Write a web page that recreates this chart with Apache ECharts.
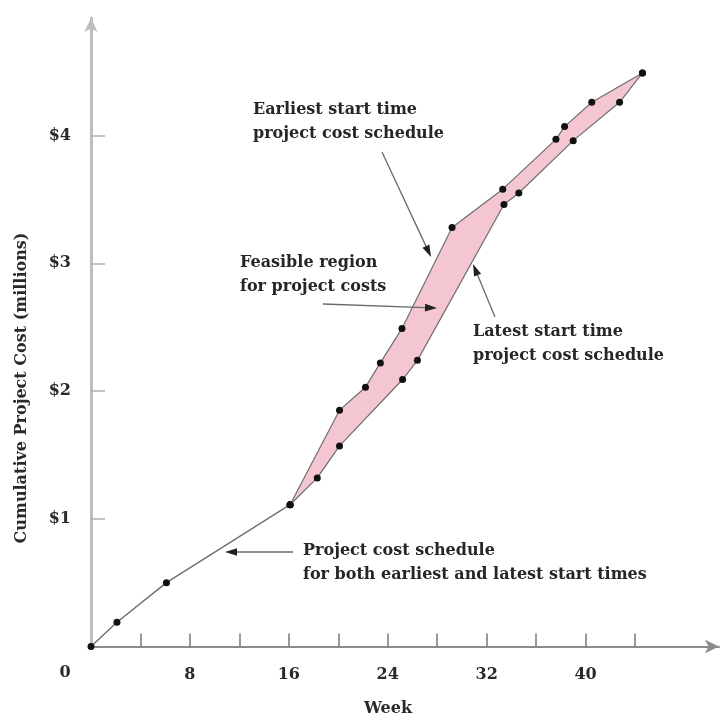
<!DOCTYPE html>
<html>
<head>
<meta charset="utf-8">
<script src="https://cdn.jsdelivr.net/npm/echarts@6/dist/echarts.min.js"></script>
<style>
  html, body { margin: 0; padding: 0; background: #fff; }
  #chart { width: 724px; height: 719px; }
</style>
</head>
<body>
<div id="chart"></div>
<script>
// ---- data (weeks, $ millions) ----
const weeksCommon = [0, 2.1, 6.1, 16.1];
const costCommon = [0, 0.19, 0.5, 1.11];
const weeksEarliest = [16.1, 20.1, 22.2, 23.4, 25.15, 29.2, 33.3, 37.6, 38.3, 40.5, 44.6];
const costEarliest = [1.11, 1.85, 2.03, 2.22, 2.49, 3.28, 3.58, 3.97, 4.07, 4.26, 4.49];
const weeksLatest = [16.1, 18.3, 20.1, 25.2, 26.4, 33.4, 34.6, 39.0, 42.75, 44.6];
const costLatest = [1.11, 1.32, 1.57, 2.09, 2.24, 3.46, 3.55, 3.96, 4.26, 4.49];
const xTickValues = [4, 8, 12, 16, 20, 24, 28, 32, 36, 40, 44];
const xLabelValues = [8, 16, 24, 32, 40];
const yTickValues = [1, 2, 3, 4];
const yLabelValues = [1, 2, 3, 4];

const zip = (xs, ys) => xs.map((x, i) => [x, ys[i]]);

const FONT = '"DejaVu Serif", serif';
const chart = echarts.init(document.getElementById('chart'), null, { renderer: 'canvas' });

function arrow(x1, y1, x2, y2) {
  const dx = x2 - x1, dy = y2 - y1;
  const L = Math.sqrt(dx * dx + dy * dy);
  const ux = dx / L, uy = dy / L;
  const hl = 12, hw = 3.8;
  const bx = x2 - ux * hl, by = y2 - uy * hl;
  return [
    { type: 'line', z: 100, shape: { x1: x1, y1: y1, x2: bx, y2: by },
      style: { stroke: '#6a6a6a', lineWidth: 1.3 } },
    { type: 'polygon', z: 100,
      shape: { points: [[x2, y2], [bx - uy * hw, by + ux * hw], [bx + uy * hw, by - ux * hw]] },
      style: { fill: '#222' } }
  ];
}

function label(text, x, top) {
  return { type: 'text', z: 100, x: x, y: top,
    style: { text: text, font: 'bold 16px ' + FONT, fill: '#262626',
      lineHeight: 24, verticalAlign: 'top', align: 'left' } };
}

const option = {
  backgroundColor: '#ffffff',
  animation: false,
  grid: { left: 91, right: 5, top: 18, bottom: 72.5, containLabel: false },
  xAxis: {
    type: 'value', min: 0, max: 50.79, splitLine: { show: false },
    axisLine: { show: true, lineStyle: { color: '#8c8c8c', width: 2 },
      symbol: ['none', 'arrow'], symbolSize: [10, 14] },
    axisTick: { show: true, inside: true, length: 13, customValues: xTickValues,
      lineStyle: { color: '#7a7a7a', width: 1.5 } },
    axisLabel: { show: true, customValues: xLabelValues, margin: 20,
      fontFamily: FONT, fontWeight: 'bold', fontSize: 16, color: '#2a2a2a' }
  },
  yAxis: {
    type: 'value', min: 0, max: 4.92, splitLine: { show: false },
    axisLine: { show: true, lineStyle: { color: '#bdbdbd', width: 3 },
      symbol: ['none', 'arrow'], symbolSize: [10, 14] },
    axisTick: { show: true, inside: true, length: 14, customValues: yTickValues,
      lineStyle: { color: '#b0b0b0', width: 1.5 } },
    axisLabel: { show: true, customValues: yLabelValues, margin: 20,
      formatter: v => '$' + v,
      fontFamily: FONT, fontWeight: 'bold', fontSize: 16, color: '#2a2a2a' }
  },
  series: [
    {
      type: 'custom', z: 1, silent: true,
      data: [[0, 0]],
      renderItem: function (params, api) {
        const pts = zip(weeksEarliest, costEarliest)
          .concat(zip(weeksLatest, costLatest).reverse())
          .map(p => api.coord(p));
        return { type: 'polygon', shape: { points: pts },
          style: { fill: '#f4c6d2', stroke: null } };
      }
    },
    {
      type: 'line', z: 3, data: zip(weeksCommon, costCommon),
      symbol: 'circle', symbolSize: 7,
      lineStyle: { color: '#6e6e6e', width: 1.4 },
      itemStyle: { color: '#111' }
    },
    {
      type: 'line', z: 3, data: zip(weeksEarliest, costEarliest),
      symbol: 'circle', symbolSize: 7,
      lineStyle: { color: '#6e6e6e', width: 1.2 },
      itemStyle: { color: '#111' }
    },
    {
      type: 'line', z: 3, data: zip(weeksLatest, costLatest),
      symbol: 'circle', symbolSize: 7,
      lineStyle: { color: '#6e6e6e', width: 1.2 },
      itemStyle: { color: '#111' }
    }
  ],
  graphic: [
    { type: 'text', z: 100, x: 65, y: 673,
      style: { text: '0', font: 'bold 16px ' + FONT, fill: '#2a2a2a', align: 'center', verticalAlign: 'middle' } },
    { type: 'text', z: 100, x: 388, y: 709,
      style: { text: 'Week', font: 'bold 16px ' + FONT, fill: '#2a2a2a', align: 'center', verticalAlign: 'middle' } },
    { type: 'text', z: 100, x: 22, y: 388, rotation: Math.PI / 2,
      style: { text: 'Cumulative Project Cost (millions)', font: 'bold 16px ' + FONT, fill: '#2a2a2a', align: 'center', verticalAlign: 'middle' } },
    label('Earliest start time\nproject cost schedule', 253, 98),
    label('Feasible region\nfor project costs', 240, 251),
    label('Latest start time\nproject cost schedule', 473, 320),
    label('Project cost schedule\nfor both earliest and latest start times', 303, 539)
  ].concat(arrow(382, 152, 431, 257))
   .concat(arrow(323, 304, 437, 308))
   .concat(arrow(495, 317, 473, 264))
   .concat(arrow(293, 552, 225, 552))
};
chart.setOption(option);
</script>
</body>
</html>
